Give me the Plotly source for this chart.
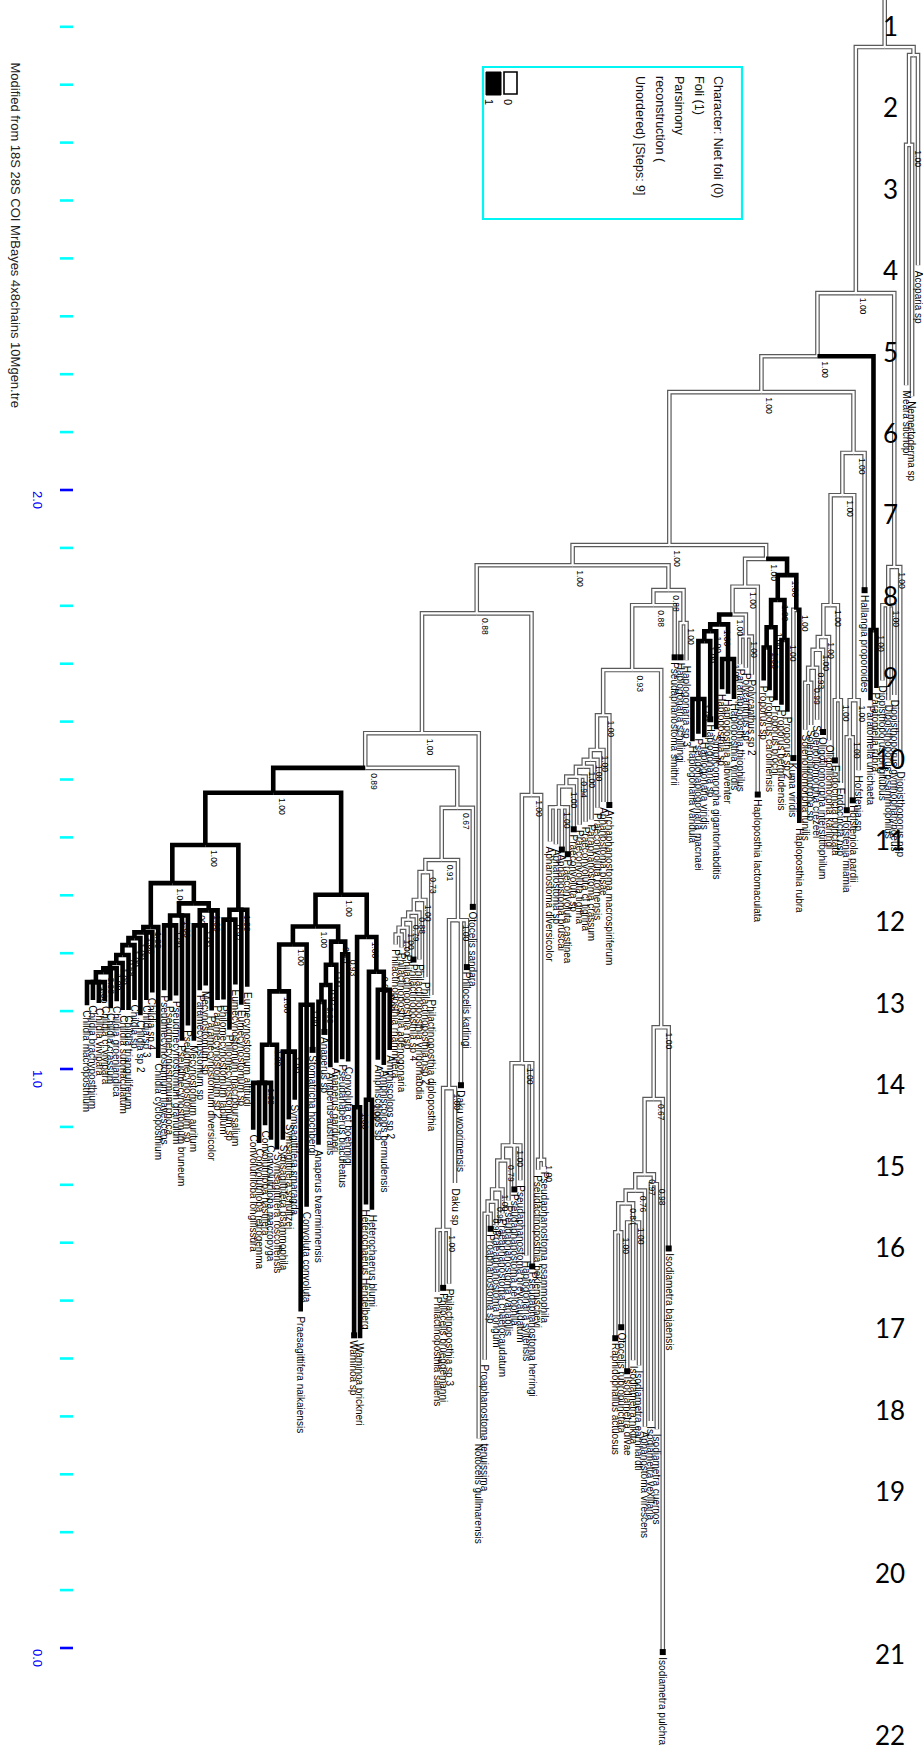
import plotly.graph_objects as go

# ---------------------------------------------------------------------------
# DATA  (Newick pieces; branch lengths in substitutions/site;
#        node label syntax "support|state", state 1 = Foli (black), inherited)
# ---------------------------------------------------------------------------
NEMERTODERMATIDA = "((Meara_stichopi:0.415,Nemertoderma_sp:0.434)1.00:0.155,Acoparia_sp:0.363):0.014"

DIOPISTHOPORIDAE = ("((Diopisthoporus_longitubus:0.130,Diopisthoporus_psammophilus:0.164,"
                    "Diopisthoporus_gymnopharyngeus:0.155)1.00:0.066,Diopisthoporus_nsp:0.345)1.00:0.473")

PARATOMELLIDAE = "(Paratomella_unichaeta:0.121,Paratomella_rubra:0.100)1.00|1:0.473"

# Solenofilomorphidae / Hofsteniidae
S5 = "(Solenofilomorpha_funilis:0.081,Solenofilomorpha_sp:0.073)0.99:0.026"
S4 = f"({S5},Solenofilomorpha_crezeei:0.090)0.93:0.031"
S3 = f"({S4},Oligofilomorpha_interstitiophilum:0.142)1.00:0.022"
S2 = f"({S3},Oligofilomorpha_karlingi:0.178)1.00:0.055"
ENDOCINCTA = "(Endocincta_punctata:0.104,Endocincta_nsp:0.143)1.00:0.164"
SOLENO = f"({S2},{ENDOCINCTA})1.00:0.190"
HOFSTENIA = "((Hofstenia_miamia:0.126,Hofsteniola_pardii:0.109)1.00:0.064,Hofstenia_sp:0.121)1.00:0.354"
HOF = f"(({SOLENO},{HOFSTENIA})1.00:0.073,Hallangia_proporoides:0.237)1.00:0.105"

# Proporidae
P4 = "(Proporus_sp:0.057,Proporus_carolinensis:0.074)1.00:0.035"
P3 = f"({P4},Proporus_brochi:0.126)1.00:0.047"
P5 = "(Proporus_bermudensis:0.112,Proporus_sp_2:0.124)1.00:0.069"
PK = "(Kuma_viridis|0:0.256,Haploposthia_rubra:0.368)1.00:0.060"
PROPORIDAE = f"(({P3},{P5})1.00:0.043,{PK})1.00|1:0.028"

# Haploposthiidae
HB4 = "(Haplogonaria_vandula:0.073,Pseudohaplogonaria_macnaei:0.060,Haplogonaria_viridis:0.066)1.00:0.100"
HB3 = f"({HB4},Haplogonaria_sp:0.135)1.00:0.017"
HB2 = f"({HB3},Simplicomorpha_gigantorhabditis:0.169)1.00:0.012"
HB5 = "(Haploposthia_sp:0.052,Haploposthia_albiventer:0.060,Haploposthia_viridis:0.069)1.00:0.060"
HB = f"({HB2},{HB5})1.00|1:0.017"
HG = "(Parahaploposthia_thiophilus:0.048,Polycanthus_sp:0.054,Polycanthus_sp_2:0.066)1.00:0.038"
HAPLO = f"(({HB},{HG})1.00:0.048,Haploposthia_lactomaculata:0.359)1.00:0.048"
BR = f"({HAPLO},{PROPORIDAE})1.00:0.024"

# Isodiametra group
I5 = "(Raphidophallus_actuosus:0.183,Otocelis_rubropunctata:0.164)1.00:0.050"
I6 = "(Isodiametra_divae:0.257,Isodiametra_nikita:0.238,Isodiametra_earnhardti:0.247)1.00:0.033"
I4 = f"({I5},{I6})0.84:0.022"
I3 = f"({I4},Aphanostoma_virescens:0.408)0.76:0.028"
I7 = "(Isodiametra_vexillaria:0.409,Isodiametra_cuernos:0.423)0.98:0.017"
ISO = f"((({I3},{I7})0.97:0.130,Isodiametra_pulchra:0.955)0.67:0.124,Isodiametra_bajaensis:0.382)1.00:0.617"

# Aphanostoma group
A7 = ("(Aphanostoma_diversicolor:0.059,Aphanostoma_sp:0.064,Aphanostoma_bruscai:0.073,"
      "Praeconvoluta_castinea:0.081)1.00:0.036")
A6 = f"({A7},Praeconvoluta_sp:0.074)1.00:0.017"
A5 = f"({A6},Praeconvoluta_tigrina:0.083,Praeconvoluta_cf_tigrina:0.078)0.94:0.017"
A4 = f"({A5},Paraphanostoma_crassum:0.091)1.00:0.012"
A3 = f"({A4},Praeconvoluta_tornensis:0.083)1.00:0.017"
A2_ = f"({A3},Aphanostoma_pisae:0.090)1.00:0.060"
APH = f"({A2_},Archaphanostoma_macrospiriferum:0.155)1.00:0.078"

# Pseudaphanostoma group
C2E = "(Proaphanostoma_tenuissima:0.252,Proaphanostoma_sp:0.026)0.99:0.021"
C2D = f"({C2E},Praeaphanostoma_longum:0.041)0.95:0.021"
C2C = f"({C2D},Praeaphanostoma_chaetocaudatum:0.041)1.00:0.050"
C2B = f"({C2C},Pseudaphanostoma_variabilis:0.069)0.79:0.026"
C2A = f"({C2B},Pseudaphanostoma_pelophila:0.076,Pseudaphanostoma_brevicaudatum:0.060)1.00:0.142"
C2L = f"({C2A},Haplogonaria_syltensis:0.332,Pseudaphanostoma_herringi:0.351)1.00:0.463"
C2R = "(Pseudactinoposthia_beklemischevi:0.017,Pseudaphanostoma_psammophila:0.012)1.00:0.630"
PSEUDAPH = f"({C2L},{C2R})1.00:0.314"

# Dakuidae
DK3D = "(Philactinoposthia_rhammifera:0.017,Philactinoposthia_adenogonaria:0.022)1.00:0.012"
DK3C = f"({DK3D},Philactinoposthia_nsp:0.038)1.00:0.014"
DK3B = f"({DK3C},Philactinoposthia_sp_4:0.069)0.79:0.012"
DK3A = f"({DK3B},Philactinoposthia_viridorhabdia:0.081)0.88:0.022"
DK3 = f"({DK3A},Philactinoposthia_nsp_2:0.133)1.00:0.048"
DK2 = f"({DK3},Philactinoposthia_diploposthia:0.212)0.73:0.021"
DK6 = "(Philactinoposthia_saliens:0.107,Philocelis_brueggemanni:0.100,Philactinoposthia_sp_3:0.093)1.00:0.245"
DK4 = f"(({DK6},Daku_sp:0.164)1.00:0.290,Daku_woorimensis:0.285,Philocelis_karlingi:0.081)1.00:0.104"
DAKUIDAE = f"(({DK2},{DK4})0.91:0.090,Otocelis_sandara:0.171)0.67:0.069"

# Convolutidae + Mecynostomidae (black clade)
CH8 = ("(Childia_macroposthium:0.040,Childia_brachyposthium:0.031,Childia_vivipara:0.036,"
       "Childia_cf_vivipara:0.033)1.00:0.017")
CH7 = f"({CH8},Childia_crassum:0.062)0.98:0.007"
CH6 = f"({CH7},Childia_groenlandica:0.057)1.00:0.009"
CH5 = f"({CH6},Childia_submaculatum:0.081)1.00:0.014"
CH4 = f"({CH5},Childia_trianguliferum:0.095)0.58:0.017"
CH3 = f"({CH4},Childia_sp:0.095)1.00:0.012"
CH2 = f"({CH3},Childia_sp_2:0.133)1.00:0.010"
CH1 = f"({CH2},Childia_sp_3:0.117,Childia_sp_4:0.104)1.00:0.009"
CHILDIA = f"({CH1},Childia_cycloposthium:0.226)1.00:0.076"
CM1 = ("((Pseudmecynostomum_flavescens:0.112,Pseudmecynostomum_phoca:0.130,"
       "Pseudmecynostomum_granulum:0.121)1.00:0.017,Pseudmecynostomum_bruneum:0.216,"
       "Pseudmecynostomum_sp:0.190)1.00:0.021")
CM2 = ("((Mecynostomum_auritum:0.199,Paramecynostomum_sp:0.112,Mecynostomum_sp:0.104)1.00:0.026,"
       "Paramecynostomum_diversicolor:0.173,Paramecynostomum_sp_2:0.155)1.00:0.012")
CLL = f"({CHILDIA},({CM1},{CM2})1.00:0.035)1.00:0.066"
CLR = ("((Philomecynostomum_lapillum:0.138,Philomecynostomum_sp:0.190,"
       "Eumecynostomum_macrobursalium:0.112)0.97:0.017,Eumecynostomum_sp:0.164,"
       "Eumecynostomum_altitudi:0.133)1.00:0.112")
CL = f"({CLL},{CLR})1.00:0.090"
CV2 = ("((Convolutriloba_longifissura:0.081,Convolutriloba_retrogemma:0.104,Convolutriloba_hastifera:0.073,"
       "Convolutriloba_macropyga:0.098)1.00:0.066,Symsagittifera_roscoffensis:0.181)1.00:0.092")
CV3 = "(Symsagittifera_psammophila:0.152,Symsagittifera_schultzei:0.117,Symsagittifera_smaragda:0.083)1.00:0.104"
CC = "(Praesagittifera_naikaiensis:0.530,Convoluta_convoluta:0.349,Stomatricha_hochbergi:0.078)1.00:0.104"
CR1A = f"(({CV2},{CV3})1.00:0.081,{CC})1.00:0.031"
CB2A = "(Anaperus_tvaerminnensis:0.247,Anaperus_sp:0.052)0.60:0.029"
CB2 = f"({CB2A},Anaperus_australis:0.142)0.97:0.035"
CB1 = f"({CB2},Anaperus_gardineri:0.169)1.00:0.040"
CB3 = "(Pseudanaperus_biaculeatus:0.181,Convoluta_cf_boehmigi:0.185)0.93:0.022"
CR1 = f"({CR1A},({CB1},{CB3})0.95:0.026)1.00:0.055"
WAMINOA = "(Waminoa_sp:0.394,Waminoa_brickneri:0.399)1.00:0.294"
HETERO = "(Heterochaerus_Hendelberg:0.181,Heterochaerus_blumi:0.190)1.00:0.221"
AMPHI = "(Amphiscolops_sp:0.121,Amphiscolops_bermudensis:0.130,Amphiscolops_sp_2:0.104)0.92:0.031"
CR2 = f"({WAMINOA},({HETERO},{AMPHI})0.93:0.060)1.00:0.073"
CONVOLUTIDAE = f"({CL},({CR1},{CR2})1.00:0.176)1.00|1:0.043"

# backbone
N89 = f"({CONVOLUTIDAE},{DAKUIDAE})0.89:0.060"
C1 = f"({N89},Notocelis_gullmarensis:1.218)1.00:0.207"
C_ = f"({C1},{PSEUDAPH})0.88:0.083"
I_ = f"({APH},{ISO})0.93:0.112"
H_ = (f"(({I_},Pseudaphanostoma_smithrii:0.090)0.88:0.026,"
      "(Haplogonaria_schillingi:0.059,Haplogonaria_sp_3:0.064)1.00:0.057)0.88:0.043")
BL = f"({C_},{H_})1.00:0.035"
B_ = f"({BL},{BR})1.00:0.264"
A2 = f"({B_},{HOF})1.00:0.062"
A1 = f"({A2},{PARATOMELLIDAE})1.00:0.109"
A0 = f"({A1},{DIOPISTHOPORIDAE})1.00:0.425"
TREE = f"({A0},{NEMERTODERMATIDA}):0.069;"

ROOT_HEIGHT = 2.834          # value of the scale at the root

TIP_SQUARES = ["Otocelis_sandara", "Philocelis_karlingi", "Daku_woorimensis", "Philactinoposthia_sp_4",
               "Philocelis_brueggemanni", "Stomatricha_hochbergi", "Anaperus_sp", "Waminoa_sp",
               "Archaphanostoma_macrospiriferum", "Praeconvoluta_sp", "Aphanostoma_bruscai",
               "Praeconvoluta_castinea", "Isodiametra_bajaensis", "Isodiametra_pulchra",
               "Raphidophallus_actuosus", "Otocelis_rubropunctata", "Isodiametra_divae",
               "Pseudaphanostoma_smithrii", "Haploposthia_lactomaculata", "Kuma_viridis",
               "Hallangia_proporoides", "Oligofilomorpha_interstitiophilum", "Endocincta_punctata",
               "Hofstenia_miamia", "Hofsteniola_pardii", "Proaphanostoma_sp", "Pseudaphanostoma_pelophila",
               "Pseudaphanostoma_herringi", "Haplogonaria_sp", "Haplogonaria_schillingi"]

SCALE_TICKS = [0.0, 0.1, 0.2, 0.3, 0.4, 0.5, 0.6, 0.7, 0.8, 0.9, 1.0, 1.1, 1.2, 1.3, 1.4,
               1.5, 1.6, 1.7, 1.8, 1.9, 2.0, 2.1, 2.2, 2.3, 2.4, 2.5, 2.6, 2.7, 2.8]
SCALE_MAJOR = [0.0, 1.0, 2.0]
SCALE_LABELS = ["0.0", "1.0", "2.0"]

TITLE = "Modified from 18S 28S COI MrBayes 4x8chains 10Mgen.tre"
LEGEND_LINES = ["Character: Niet foli (0)", "Foli (1)", "Parsimony", "reconstruction (",
                "Unordered) [Steps: 9]"]
LEGEND_STATES = ["1", "0"]
ROW_NUMBERS = ["1", "2", "3", "4", "5", "6", "7", "8", "9", "10", "11", "12", "13", "14",
               "15", "16", "17", "18", "19", "20", "21", "22"]

# ---------------------------------------------------------------------------
# parsing / layout
# ---------------------------------------------------------------------------
def parse_newick(s):
    s = s.strip().rstrip(';')
    pos = 0

    def node():
        nonlocal pos
        n = {'kids': [], 'label': '', 'len': 0.0}
        if s[pos] == '(':
            pos += 1
            n['kids'].append(node())
            while s[pos] == ',':
                pos += 1
                n['kids'].append(node())
            assert s[pos] == ')'
            pos += 1
        j = pos
        while pos < len(s) and s[pos] not in ',():':
            pos += 1
        n['label'] = s[j:pos]
        if pos < len(s) and s[pos] == ':':
            pos += 1
            j = pos
            while pos < len(s) and s[pos] not in ',()':
                pos += 1
            n['len'] = float(s[j:pos])
        return n

    return node()


root = parse_newick(TREE)
leaves = []
internals = []


def layout(n, depth, state):
    label = n['label']
    if '|' in label:
        label, st = label.split('|')
        state = int(st)
    n['name'] = label
    n['state'] = state
    n['depth'] = depth + n['len']
    n['v'] = ROOT_HEIGHT - n['depth']
    if n['kids']:
        for k in n['kids']:
            layout(k, n['depth'], state)
        n['x'] = (n['kids'][0]['x'] + n['kids'][-1]['x']) / 2.0
        internals.append(n)
    else:
        n['x'] = float(len(leaves))
        leaves.append(n)


layout(root, 0.0, 0)

W, H = 923, 1760
NL = len(leaves)
X_FIRST, X_LAST = 87.0, 918.0
SP = (X_LAST - X_FIRST) / (NL - 1)
XR = [(0 - X_FIRST) / SP, (W - X_FIRST) / SP]
PX_PER_UNIT = 579.0
Y_AT_2 = 490.0
YR = [2.0 - (H - Y_AT_2) / PX_PER_UNIT, 2.0 + Y_AT_2 / PX_PER_UNIT]


def px(p):
    return p / W


def py(p):
    return 1 - p / H


# segments
seg = {0: ([], []), 1: ([], [])}


def add(state, xs, ys):
    seg[state][0].extend(xs + [None])
    seg[state][1].extend(ys + [None])


add(root['state'], [root['x'], root['x']], [YR[1], root['v']])
for n in internals:
    for k in n['kids']:
        add(k['state'], [n['x'], k['x'], k['x']], [n['v'], n['v'], k['v']])

fig = go.Figure()
fig.add_trace(go.Scatter(x=seg[0][0], y=seg[0][1], mode='lines',
                         line=dict(color='#5a5a5a', width=4.6), hoverinfo='skip'))
fig.add_trace(go.Scatter(x=seg[0][0], y=seg[0][1], mode='lines',
                         line=dict(color='white', width=2.2), hoverinfo='skip'))
fig.add_trace(go.Scatter(x=seg[1][0], y=seg[1][1], mode='lines',
                         line=dict(color='black', width=4.6), hoverinfo='skip'))
sq = [l for l in leaves if l['name'] in TIP_SQUARES]
fig.add_trace(go.Scatter(x=[l['x'] for l in sq], y=[l['v'] for l in sq], mode='markers',
                         marker=dict(symbol='square', size=6, color='black'), hoverinfo='skip'))

ann = []
LABEL_FONT = dict(family='Liberation Sans, Arial, sans-serif', size=10, color='black')
for l in leaves:
    ann.append(dict(x=l['x'], y=l['v'], xref='x', yref='y', text=l['name'].replace('_', ' '),
                    textangle=90, xanchor='center', yanchor='top', yshift=-3,
                    showarrow=False, font=LABEL_FONT))
for n in internals:
    if n['name'] and n is not root:
        ann.append(dict(x=n['x'], y=n['v'], xref='x', yref='y', text=n['name'], textangle=90,
                        xanchor='left', yanchor='top', xshift=1, yshift=-3, showarrow=False,
                        font=dict(family='Liberation Sans, Arial, sans-serif', size=8.5, color='black')))

shapes = []
for t in SCALE_TICKS:
    major = t in SCALE_MAJOR
    shapes.append(dict(type='line', xref='paper', yref='y', x0=px(60), x1=px(73), y0=t, y1=t,
                       line=dict(color='#0000ff' if major else '#00ffff', width=2.6)))
for t, s in zip(SCALE_MAJOR, SCALE_LABELS):
    ann.append(dict(x=px(38), y=t, xref='paper', yref='y', text=s, textangle=90, xanchor='center',
                    yanchor='top', yshift=1, showarrow=False,
                    font=dict(family='Liberation Sans, Arial, sans-serif', size=13, color='#0000ff')))

ann.append(dict(x=px(15), y=py(60), xref='paper', yref='paper', text=TITLE, textangle=90,
                xanchor='center', yanchor='top', showarrow=False,
                font=dict(family='Liberation Sans, Arial, sans-serif', size=13, color='#222222')))

# legend box
shapes.append(dict(type='rect', xref='paper', yref='paper', x0=px(483), x1=px(742), y0=py(219), y1=py(67),
                   line=dict(color='#00f5f5', width=2.2), fillcolor='rgba(0,0,0,0)'))
shapes.append(dict(type='rect', xref='paper', yref='paper', x0=px(486), x1=px(501), y0=py(95), y1=py(72),
                   line=dict(color='black', width=1), fillcolor='black'))
shapes.append(dict(type='rect', xref='paper', yref='paper', x0=px(504), x1=px(517), y0=py(94), y1=py(72),
                   line=dict(color='black', width=1.6), fillcolor='white'))
for xpos, s in zip([489, 508], LEGEND_STATES):
    ann.append(dict(x=px(xpos), y=py(97), xref='paper', yref='paper', text=s, textangle=90,
                    xanchor='center', yanchor='top', showarrow=False,
                    font=dict(family='Liberation Sans, Arial, sans-serif', size=11, color='black')))
for i, s in enumerate(LEGEND_LINES):
    ann.append(dict(x=px(718 - 19.5 * i), y=py(74), xref='paper', yref='paper', text=s, textangle=90,
                    xanchor='center', yanchor='top', showarrow=False,
                    font=dict(family='Liberation Sans, Arial, sans-serif', size=12.5, color='#111111')))

for i, s in enumerate(ROW_NUMBERS):
    ann.append(dict(x=px(890), y=py(26 + 81.4 * i), xref='paper', yref='paper', text=s,
                    xanchor='center', yanchor='middle', showarrow=False,
                    font=dict(family='Lato, Open Sans, sans-serif', size=26, color='black')))

fig.update_layout(width=W, height=H, margin=dict(l=0, r=0, t=0, b=0),
                  paper_bgcolor='white', plot_bgcolor='white', showlegend=False,
                  xaxis=dict(range=XR, visible=False, fixedrange=True),
                  yaxis=dict(range=YR, visible=False, fixedrange=True),
                  annotations=ann, shapes=shapes)

fig.write_html("out.html", config={'displayModeBar': False},
               post_script="document.body.style.margin='0px';")
